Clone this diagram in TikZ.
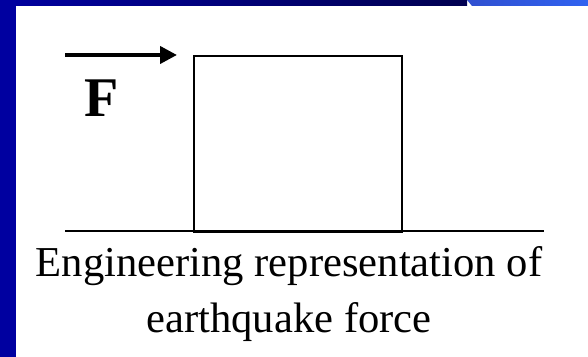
\documentclass[tikz,border=0pt]{standalone}
\usepackage{fontspec}
\setmainfont{Liberation Serif}
\usetikzlibrary{arrows.meta,positioning}
\definecolor{barraAzul}{HTML}{0000A0}
\definecolor{barraMarino}{HTML}{000050}
\definecolor{pestanaIzq}{HTML}{3050D0}
\definecolor{pestanaDer}{HTML}{3062F0}

\begin{document}
\begin{tikzpicture}[x=0.5pt, y=-0.5pt,
    bloque/.style={draw=black, line width=1.2pt, minimum width=104pt, minimum height=88pt, inner sep=0pt, anchor=north west},
    suelo/.style={draw=black, line width=1.4pt},
    fuerza/.style={draw=black, line width=2pt, -{Triangle[length=8.5pt, width=8.5pt]}},
    rotulo/.style={font=\fontsize{28}{28}\selectfont\bfseries, inner sep=0pt},
    leyenda/.style={font=\fontsize{21.3}{28}\selectfont, align=center, inner sep=0pt}
  ]
  % fondo y barras del marco
  \fill[white] (0,0) rectangle (588,357);
  \shade[left color=barraAzul, right color=barraMarino] (0,0) rectangle (467,6);
  \shade[left color=pestanaIzq, right color=pestanaDer] (467,0) -- (588,0) -- (588,6) -- (472,6) -- cycle;
  \fill[barraAzul] (0,0) rectangle (16,357);

  % bloque sobre el suelo
  \node[bloque] (masa) at (193,55) {};
  \coordinate (sueloIzq) at (65,231);
  \coordinate (sueloDer) at (544,231);
  \draw[suelo] (sueloIzq) -- (sueloDer);

  % fuerza horizontal
  \coordinate (fInicio) at (65,55);
  \coordinate (fFin) at (177,55);
  \draw[fuerza] (fInicio) -- (fFin);
  \node[rotulo, anchor=base west] (etiquetaF) at (84,117) {F};

  % texto inferior
  \node[leyenda, anchor=base] (texto) at (289,332) {Engineering representation of\\earthquake force};
\end{tikzpicture}
\end{document}
